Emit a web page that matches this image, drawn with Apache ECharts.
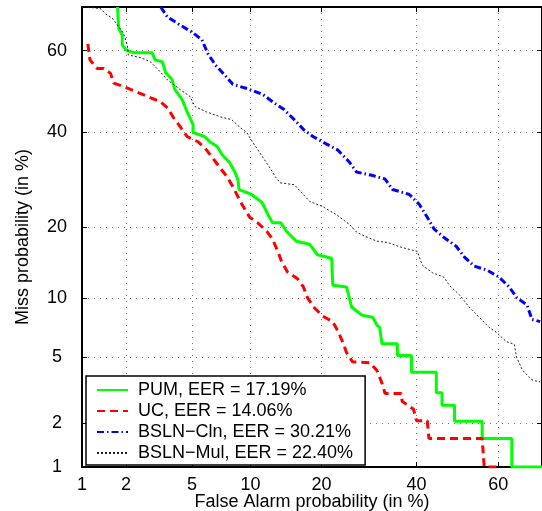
<!DOCTYPE html>
<html>
<head>
<meta charset="utf-8">
<script src="https://cdn.jsdelivr.net/npm/echarts@6/dist/echarts.min.js"></script>
<style>
  html, body { margin: 0; padding: 0; background: #fff; }
  #chart { width: 542px; height: 511px; }
</style>
</head>
<body>
<div id="chart"></div>
<script>
// DET plot: false alarm vs miss probability, both in %, on a normal deviate scale

// tick labels (in %)
var tickPct = [1, 2, 5, 10, 20, 40, 60]
var axisMin = 1, axisMax = 70

// curves, [false alarm %, miss %]
var pum = [
  [1.76, 70], [1.79, 65.3], [1.89, 63.7], [1.89, 61.4], [2, 60.2], [2.25, 59.5], [2.93, 59.5],
  [3.05, 57.8], [3.38, 57.3], [3.52, 54.8], [3.86, 52.9], [4, 50.5], [4.41, 48], [4.7, 45],
  [5.07, 41.9], [5.07, 40], [5.87, 39], [6.25, 37.8], [6.83, 36.7], [7.25, 34.8], [7.9, 33],
  [8.4, 30.9], [8.7, 29.2], [8.8, 27.2], [10.1, 26.2], [11.3, 24.6], [12.2, 21.8], [12.6, 20.8],
  [13.7, 20.8], [14.5, 19.3], [15.9, 17.7], [18, 17.2], [19.3, 15.6], [21.8, 15.1], [22, 11.5],
  [24.6, 11.3], [25.6, 9.1], [27.7, 8.3], [30, 8.1], [30.9, 7.4], [31.5, 7.2], [32, 5.9],
  [35.5, 5.9], [35.5, 5.1], [38.8, 5.1], [38.8, 4.1], [44.8, 4.1], [44.8, 3.1], [46.2, 3.1],
  [46.2, 2.6], [49.3, 2.6], [49.3, 2.05], [56.1, 2.05], [56.1, 1.58], [63.2, 1.58], [63.2, 1],
  [70, 1]
]
var uc = [
  [1.1, 61.6], [1.14, 57.8], [1.28, 55.7], [1.42, 55.7], [1.58, 54.5], [1.66, 52.1], [1.95, 51.2],
  [2.25, 50.2], [2.75, 48.8], [2.93, 48.3], [3.29, 47.5], [3.62, 46], [3.9, 43.8], [4.29, 41.4],
  [4.7, 39], [5.4, 37.8], [5.87, 36.4], [6.4, 34.3], [7.08, 31.8], [7.67, 29.9], [8.2, 27.8],
  [9.1, 24.2], [9.9, 21.8], [10.8, 20.8], [11.9, 19.3], [12.6, 18], [13.3, 16.1], [13.8, 14.6],
  [14.6, 13.2], [16.1, 12.3], [17, 11.3], [17.7, 10], [18.8, 9], [20.2, 8.2], [22, 7.7],
  [23, 6.85], [23.9, 6], [24.6, 5.3], [25.8, 4.7], [29.4, 4.65], [30.9, 4.2], [32, 3.55],
  [32.7, 3.07], [36.4, 3.07], [36.6, 2.75], [39.3, 2.45], [40, 2.07], [42.6, 2.07], [43, 1.58],
  [56.1, 1.58], [56.6, 1], [60.7, 1]
]
var cln = [
  [3.3, 70], [3.62, 67.8], [4.29, 66], [5, 64.4], [5.67, 62.6], [6.1, 59.3], [6.7, 56.5],
  [7.5, 54], [8.2, 51.8], [9.7, 50.7], [11.4, 49.3], [12.6, 47.5], [14.2, 45.5], [15.6, 43.1],
  [17.1, 40.6], [18.6, 39], [20.4, 37.6], [22.9, 35.9], [25.1, 33.2], [26.6, 30.9], [29.8, 30.2],
  [32.7, 29.4], [34.4, 27.2], [38.3, 26.2], [40.7, 24.2], [42.6, 21.8], [44.3, 19.7], [46.7, 18.3],
  [49.7, 16.9], [51.7, 15.3], [54.1, 14], [57.4, 13.4], [60.2, 12.5], [62.6, 11.3], [64.4, 10.05],
  [66.7, 9.3], [67.8, 7.9], [69.6, 7.7]
]
var mul = [
  [1.1, 70], [1.36, 69.6], [1.46, 68.5], [1.62, 67.6], [1.92, 64.2], [2.04, 61.4], [2.07, 59],
  [2.5, 58.3], [2.86, 57.3], [3.29, 54.8], [3.62, 52.9], [4.29, 50.5], [4.88, 48.8], [5.2, 46.3],
  [6, 45], [7.08, 43.8], [8.1, 43.1], [8.9, 41.2], [9.6, 40], [10.2, 37.8], [11.05, 35.2],
  [12.2, 32], [13, 29.8], [13.6, 28.6], [15.6, 28.2], [16.7, 26.6], [18, 24.8], [20.2, 23.8],
  [22.8, 22.2], [25.2, 20.5], [26.6, 19.2], [28.3, 18.5], [30.9, 17.7], [33.2, 17.5], [36.6, 16.7],
  [40.2, 16.1], [41.4, 14.1], [43.8, 13.1], [46.7, 12.5], [48, 11.5], [50.5, 10.4], [52.9, 9.1],
  [55.4, 8.1], [57.8, 7.2], [59.5, 6.8], [61.9, 6.07], [63.8, 5.86], [64.3, 5], [65.7, 4.2],
  [67.8, 3.7], [69.6, 3.6]
]

var names = ['PUM, EER = 17.19%', 'UC, EER = 14.06%', 'BSLN\u2212Cln, EER = 30.21%', 'BSLN\u2212Mul, EER = 22.40%']

// inverse normal cdf (Acklam)
function probit(p) {
  var a = [-3.969683028665376e+01, 2.209460984245205e+02, -2.759285104469687e+02, 1.383577518672690e+02, -3.066479806614716e+01, 2.506628277459239e+00]
  var b = [-5.447609879822406e+01, 1.615858368580409e+02, -1.556989798598866e+02, 6.680131188771972e+01, -1.328068155288572e+01]
  var c = [-7.784894002430293e-03, -3.223964580411365e-01, -2.400758277161838e+00, -2.549671350802341e+00, 4.374664141464968e+00, 2.938163982698783e+00]
  var d = [7.784695709041462e-03, 3.224671290700398e-01, 2.445134137142996e+00, 3.754408661907416e+00]
  var q, r
  if (p < 0.02425) {
    q = Math.sqrt(-2 * Math.log(p))
    return (((((c[0]*q+c[1])*q+c[2])*q+c[3])*q+c[4])*q+c[5]) / ((((d[0]*q+d[1])*q+d[2])*q+d[3])*q+1)
  }
  if (p <= 1 - 0.02425) {
    q = p - 0.5; r = q * q
    return (((((a[0]*r+a[1])*r+a[2])*r+a[3])*r+a[4])*r+a[5])*q / (((((b[0]*r+b[1])*r+b[2])*r+b[3])*r+b[4])*r+1)
  }
  q = Math.sqrt(-2 * Math.log(1 - p))
  return -(((((c[0]*q+c[1])*q+c[2])*q+c[3])*q+c[4])*q+c[5]) / ((((d[0]*q+d[1])*q+d[2])*q+d[3])*q+1)
}

var tickVals = tickPct.map(function (t) { return probit(t / 100) })
function tickLabel(v) {
  for (var i = 0; i < tickVals.length; i++) {
    if (Math.abs(tickVals[i] - v) < 1e-6) return String(tickPct[i])
  }
  return ''
}
function toProbit(pts) {
  return pts.map(function (p) { return [probit(p[0] / 100), probit(p[1] / 100)] })
}

var font = 'Liberation Sans, Arial, Helvetica, sans-serif'

function axis(pos, main) {
  var horiz = pos === 'bottom' || pos === 'top'
  return {
    type: 'value',
    position: pos,
    min: probit(axisMin / 100),
    max: probit(axisMax / 100),
    name: main ? (horiz ? 'False Alarm probability (in %)' : 'Miss probability (in %)') : '',
    nameLocation: 'middle',
    nameGap: horiz ? 26 : 50,
    nameMoveOverlap: !horiz,
    nameTextStyle: { color: '#000', fontSize: 18, fontFamily: font },
    axisLine: { show: true, onZero: false, lineStyle: { color: '#000', width: 2 } },
    axisTick: { show: true, inside: true, length: 5, customValues: tickVals, lineStyle: { color: '#000', width: 1 } },
    axisLabel: {
      show: main,
      customValues: tickVals,
      formatter: tickLabel,
      color: '#000',
      fontSize: 18,
      fontFamily: font,
      margin: horiz ? 9 : 25,
      align: horiz ? undefined : 'center',
      showMinLabel: true,
      showMaxLabel: true
    },
    splitLine: {
      show: main,
      lineStyle: { color: '#777', width: 1, type: [1, 5] }
    }
  }
}

var chart = echarts.init(document.getElementById('chart'))
chart.setOption({
  animation: false,
  backgroundColor: '#fff',
  grid: { left: 82, right: 0, top: 7, bottom: 44, outerBoundsMode: 'none' },
  xAxis: [axis('bottom', true), axis('top', false)],
  yAxis: [axis('left', true), axis('right', false)],
  legend: {
    orient: 'vertical',
    left: 86,
    top: 376,
    padding: [5, 12, 3, 10],
    itemGap: 3,
    itemWidth: 31,
    itemHeight: 14,
    backgroundColor: '#fff',
    borderColor: '#000',
    borderWidth: 1.5,
    borderRadius: 0,
    data: names,
    // hide the marker dot, keep only the line sample
    itemStyle: { color: 'rgba(0,0,0,0)', borderWidth: 0, opacity: 0 },
    textStyle: { color: '#000', fontSize: 18, fontFamily: font, padding: [0, 0, 0, 5] }
  },
  series: [
    { name: names[0], type: 'line', data: toProbit(pum), showSymbol: false, symbol: 'none',
      lineStyle: { color: '#00ff00', width: 3, type: 'solid' }, itemStyle: { color: '#00ff00' } },
    { name: names[1], type: 'line', data: toProbit(uc), showSymbol: false, symbol: 'none',
      lineStyle: { color: '#ff0000', width: 3, type: [8, 5] }, itemStyle: { color: '#ff0000' } },
    { name: names[2], type: 'line', data: toProbit(cln), showSymbol: false, symbol: 'none',
      lineStyle: { color: '#0000ff', width: 3, type: [7, 3, 1.5, 3] }, itemStyle: { color: '#0000ff' } },
    { name: names[3], type: 'line', data: toProbit(mul), showSymbol: false, symbol: 'none',
      lineStyle: { color: '#222', width: 1, type: [2, 2] }, itemStyle: { color: '#222' } }
  ]
})
</script>
</body>
</html>
